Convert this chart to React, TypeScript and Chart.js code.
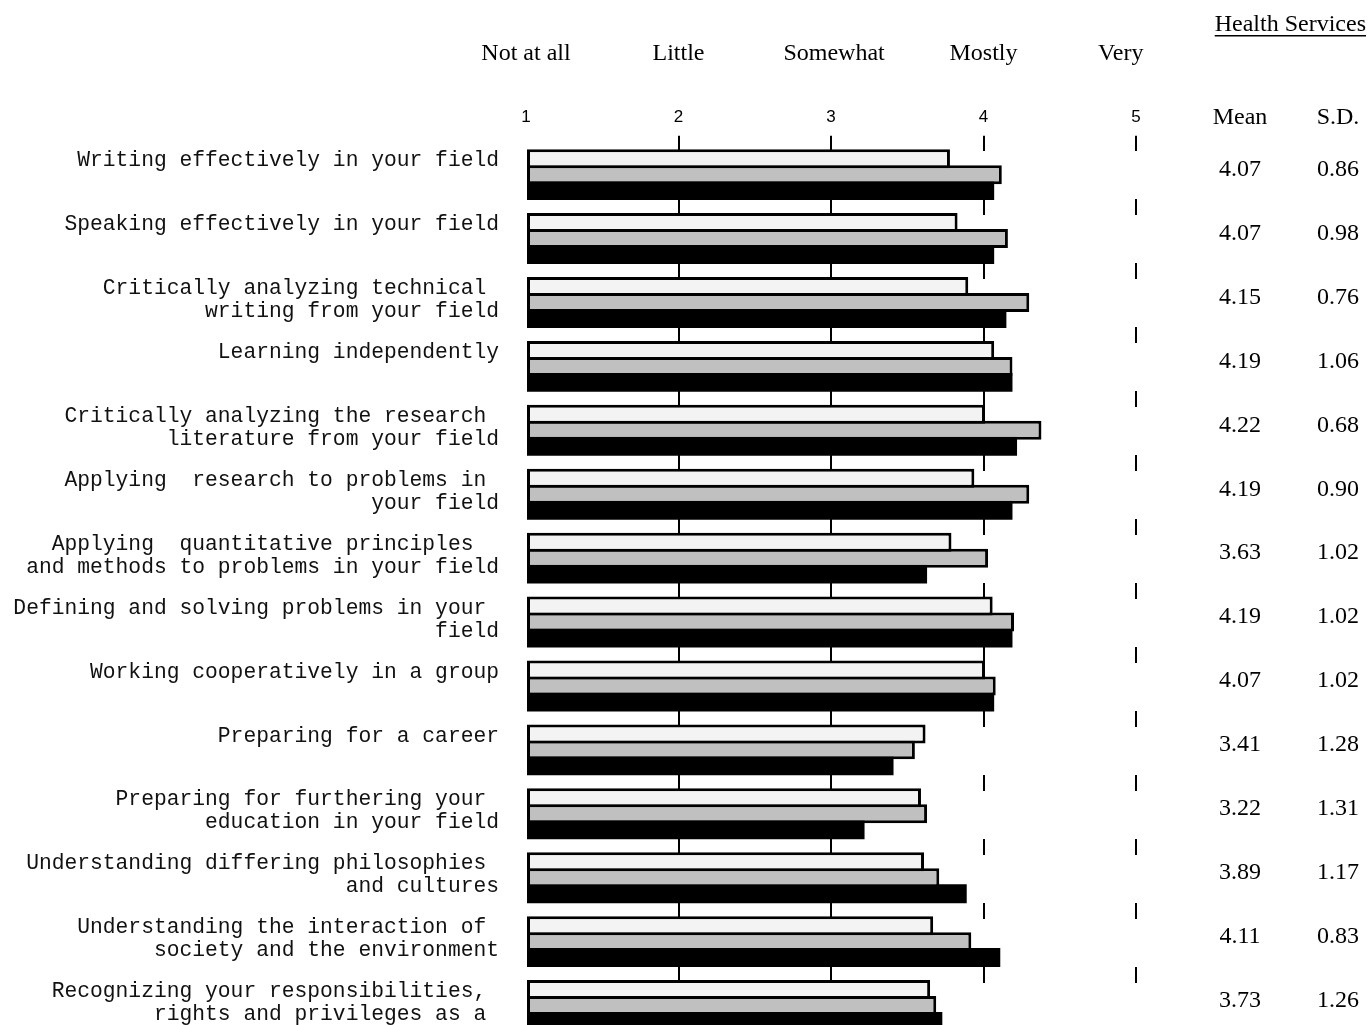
import React, { useEffect, useRef } from "react";
import { Chart, registerables } from "chart.js";

Chart.register(...registerables);

// ---------- data ----------
const CATEGORIES: string[][] = [
  ["Writing effectively in your field"],
  ["Speaking effectively in your field"],
  ["Critically analyzing technical ", "writing from your field"],
  ["Learning independently"],
  ["Critically analyzing the research ", "literature from your field"],
  ["Applying  research to problems in ", "your field"],
  ["Applying  quantitative principles  ", "and methods to problems in your field"],
  ["Defining and solving problems in your ", "field"],
  ["Working cooperatively in a group"],
  ["Preparing for a career"],
  ["Preparing for furthering your ", "education in your field"],
  ["Understanding differing philosophies ", "and cultures"],
  ["Understanding the interaction of ", "society and the environment"],
  ["Recognizing your responsibilities, ", "rights and privileges as a "],
];

const SERIES_LIGHT = [3.78, 3.83, 3.9, 4.07, 4.01, 3.94, 3.79, 4.06, 4.01, 3.62, 3.59, 3.61, 3.67, 3.65];
const SERIES_GRAY = [4.12, 4.16, 4.3, 4.19, 4.38, 4.3, 4.03, 4.2, 4.08, 3.55, 3.63, 3.71, 3.92, 3.69];
const MEANS = [4.07, 4.07, 4.15, 4.19, 4.22, 4.19, 3.63, 4.19, 4.07, 3.41, 3.22, 3.89, 4.11, 3.73];
const SDS = [0.86, 0.98, 0.76, 1.06, 0.68, 0.9, 1.02, 1.02, 1.02, 1.28, 1.31, 1.17, 0.83, 1.26];

const X_MIN = 1;
const X_MAX = 5;
const SCALE_WORDS = ["Not at all", "Little", "Somewhat", "Mostly", "Very"];
const SCALE_WORD_VALUES = [1, 2, 3.02, 4, 4.9];
const TABLE_TITLE = "Health Services";
const MEAN_HEADER = "Mean";
const SD_HEADER = "S.D.";

const SERIF = "'Liberation Serif', 'Times New Roman', serif";
const MONO = "'Liberation Mono', 'Courier New', monospace";
const SANS = "'Liberation Sans', Arial, sans-serif";

const overlayPlugin = {
  id: "overlay",
  afterDraw(chart: any) {
    const ctx: CanvasRenderingContext2D = chart.ctx;
    const xs = chart.scales.x;
    const ys = chart.scales.y;
    ctx.save();
    ctx.fillStyle = "#000";
    ctx.textBaseline = "middle";

    // scale words above the tick numbers
    ctx.font = `24px ${SERIF}`;
    ctx.textAlign = "center";
    SCALE_WORDS.forEach((w, i) => {
      ctx.fillText(w, xs.getPixelForValue(SCALE_WORD_VALUES[i]), 54);
    });

    // category labels, top-aligned with each bar group
    ctx.font = `21.3px ${MONO}`;
    ctx.fillStyle = "#111";
    ctx.textAlign = "right";
    const labels = chart.data.labels as string[][];
    labels.forEach((lines, i) => {
      const cy = ys.getPixelForValue(i);
      lines.forEach((line, k) => {
        ctx.fillText(line, 499, cy - 14 + k * 23);
      });
    });

    // right-hand table
    ctx.fillStyle = "#000";
    ctx.font = `24px ${SERIF}`;
    ctx.textAlign = "right";
    ctx.fillText(TABLE_TITLE, 1366, 25);
    const tw = ctx.measureText(TABLE_TITLE).width;
    ctx.fillRect(1366 - tw, 35, tw, 1.5);

    ctx.textAlign = "center";
    ctx.fillText(MEAN_HEADER, 1240, 118);
    ctx.fillText(SD_HEADER, 1338, 118);
    MEANS.forEach((m, i) => {
      const cy = ys.getPixelForValue(i) - 5;
      ctx.fillText(m.toFixed(2), 1240, cy);
      ctx.fillText(SDS[i].toFixed(2), 1338, cy);
    });
    ctx.restore();
  },
};

export default function App() {
  const ref = useRef<HTMLCanvasElement | null>(null);

  useEffect(() => {
    if (!ref.current) return;
    const barCommon = {
      base: X_MIN,
      borderColor: "#000",
      borderWidth: 3,
      borderSkipped: false as const,
      categoryPercentage: 0.75,
      barPercentage: 19 / 16,
      inflateAmount: 0,
    };
    const chart = new Chart(ref.current, {
      type: "bar",
      data: {
        labels: CATEGORIES as any,
        datasets: [
          { ...barCommon, label: "A", data: SERIES_LIGHT, backgroundColor: "#f3f3f3" },
          { ...barCommon, label: "B", data: SERIES_GRAY, backgroundColor: "#c0c0c0" },
          { ...barCommon, label: "Mean", data: MEANS, backgroundColor: "#000", borderWidth: 0 },
        ],
      },
      options: {
        indexAxis: "y",
        responsive: false,
        animation: false,
        layout: { padding: { left: 526, right: 233, top: 99.3, bottom: 7.5 } },
        plugins: { legend: { display: false }, tooltip: { enabled: false } },
        scales: {
          x: {
            position: "top",
            min: X_MIN,
            max: X_MAX,
            ticks: {
              stepSize: 1,
              padding: 8,
              color: "#000",
              font: { family: SANS, size: 17 },
            },
            grid: {
              color: (c: any) => (c.tick && c.tick.value === X_MIN ? "rgba(0,0,0,0)" : "#000"),
              lineWidth: 2,
              tickLength: 7,
              tickWidth: 2,
            },
            border: { display: false, dash: [16, 48], dashOffset: 8 },
          },
          y: {
            display: false,
            grid: { display: false },
          },
        },
      },
      plugins: [overlayPlugin],
    } as any);
    return () => chart.destroy();
  }, []);

  return (
    <div
      style={{
        position: "fixed",
        left: 0,
        top: 0,
        width: 1369,
        height: 1025,
        overflow: "hidden",
        background: "#fff",
      }}
    >
      <canvas ref={ref} width={1369} height={1045} style={{ width: 1369, height: 1045, display: "block" }} />
    </div>
  );
}
